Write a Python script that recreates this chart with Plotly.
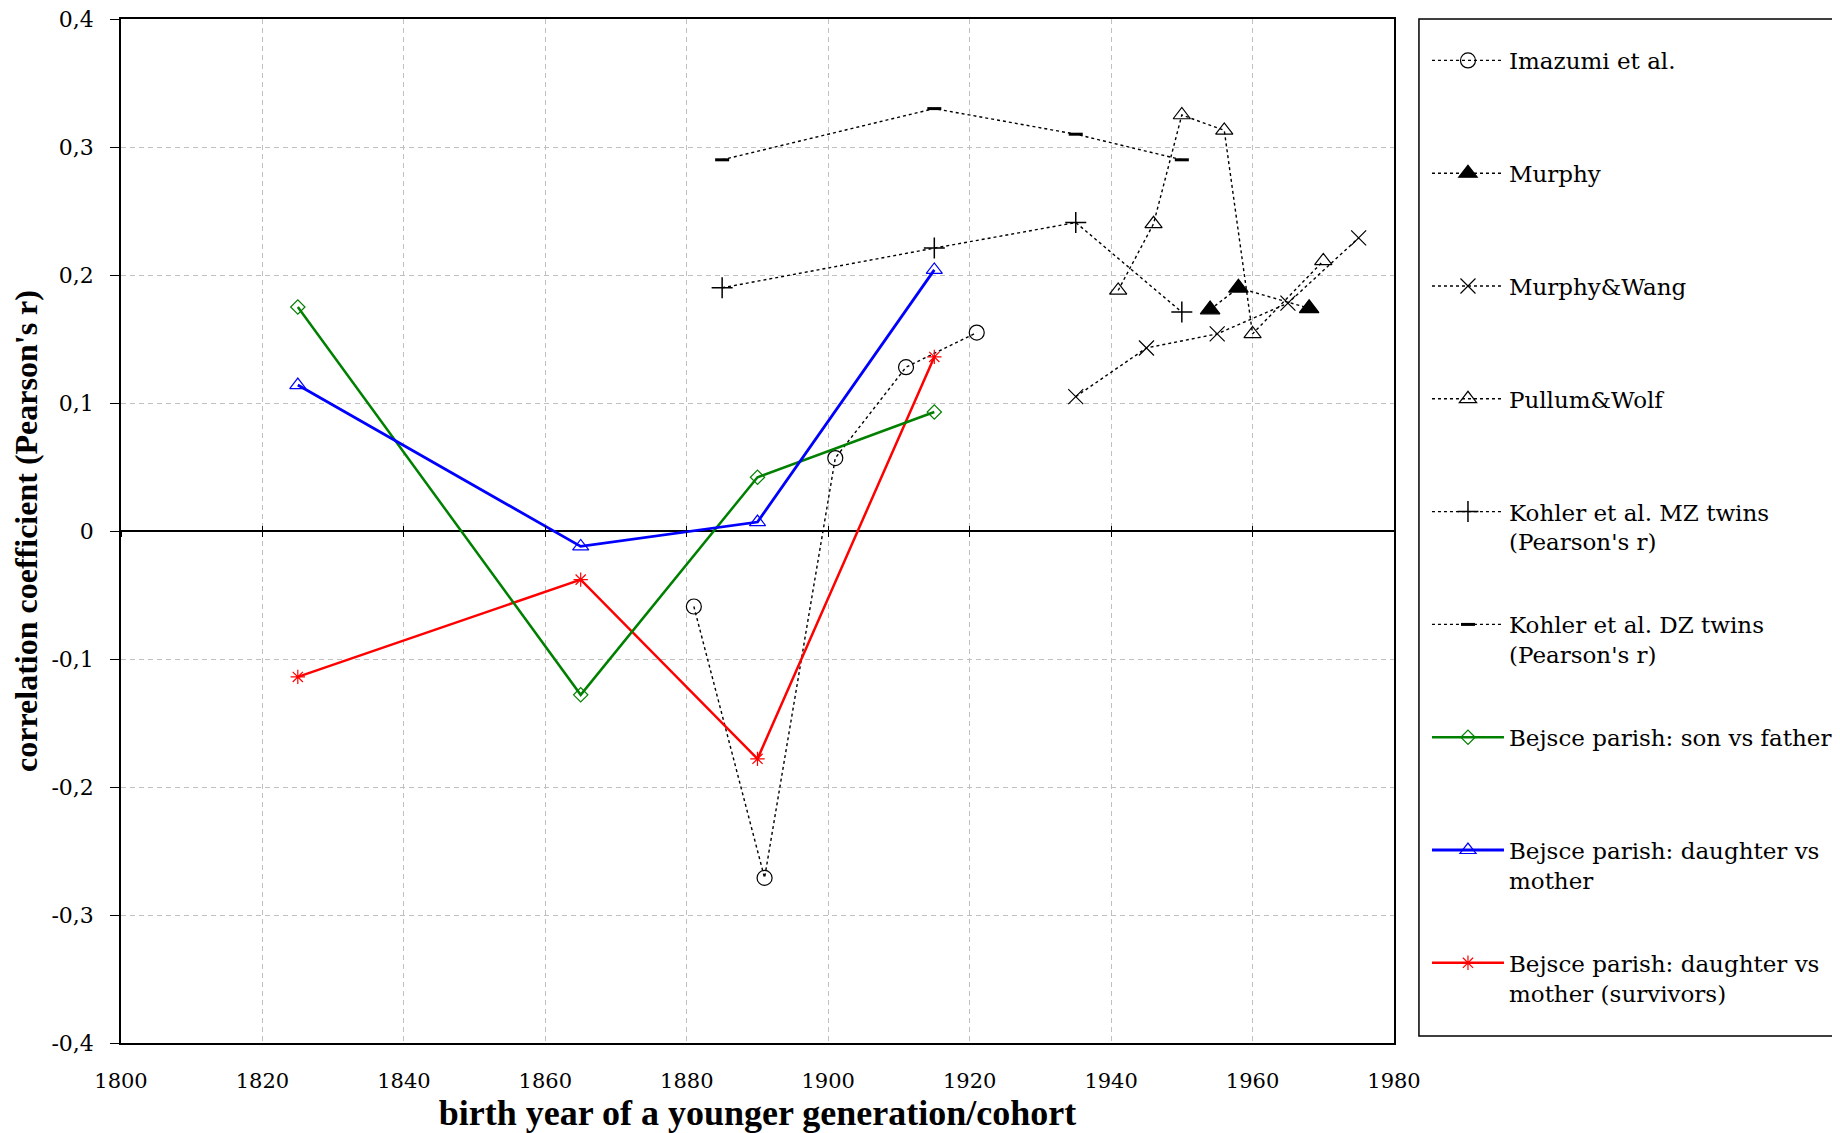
import plotly.graph_objects as go

# --- data ---
imazumi_years = [1881, 1891, 1901, 1911, 1921]
imazumi_r = [-0.059, -0.271, 0.057, 0.128, 0.155]

murphy_years = [1954, 1958, 1968]
murphy_r = [0.173, 0.190, 0.174]

murphy_wang_years = [1935, 1945, 1955, 1965, 1975]
murphy_wang_r = [0.105, 0.143, 0.154, 0.178, 0.229]

pullum_years = [1941, 1946, 1950, 1956, 1960, 1970]
pullum_r = [0.188, 0.240, 0.325, 0.313, 0.154, 0.211]

kohler_mz_years = [1885, 1915, 1935, 1950]
kohler_mz_r = [0.190, 0.221, 0.241, 0.171]

kohler_dz_years = [1885, 1915, 1935, 1950]
kohler_dz_r = [0.290, 0.330, 0.310, 0.290]

bejsce_years = [1825, 1865, 1890, 1915]
son_father_r = [0.175, -0.128, 0.042, 0.093]
daughter_mother_r = [0.114, -0.012, 0.007, 0.204]
daughter_mother_surv_r = [-0.114, -0.038, -0.178, 0.136]

x_ticks = [1800, 1820, 1840, 1860, 1880, 1900, 1920, 1940, 1960, 1980]
y_ticks = [-0.4, -0.3, -0.2, -0.1, 0, 0.1, 0.2, 0.3, 0.4]
y_tick_labels = ["-0,4", "-0,3", "-0,2", "-0,1", "0", "0,1", "0,2", "0,3", "0,4"]

FONT = "DejaVu Serif"
TITLE_FONT = "Liberation Serif"
BLANK = "<br>\u00a0"

fig = go.Figure()

def add_series(x, y, name, color, width, dash, symbol, size, mline=1.2, fill=None, xaxis="x"):
    fig.add_trace(go.Scatter(
        x=x, y=y, name=name, mode="lines+markers", legendgroup=name, xaxis=xaxis,
        line=dict(color=color, width=width, dash=dash),
        marker=dict(symbol=symbol, size=size, color=fill or color,
                    line=dict(color=color, width=mline)),
    ))

add_series(imazumi_years, imazumi_r, "Imazumi et al." + BLANK, "black", 1.4, "3px,3px", "circle-open", 15)
add_series(murphy_years, murphy_r, "Murphy" + BLANK, "black", 1.4, "3px,3px", "triangle-up", 17)
add_series(murphy_wang_years, murphy_wang_r, "Murphy&amp;Wang" + BLANK, "black", 1.4, "3px,3px", "x-thin-open", 15)
add_series(pullum_years, pullum_r, "Pullum&amp;Wolf" + BLANK, "black", 1.4, "3px,3px", "triangle-up-open", 15)
add_series(kohler_mz_years, kohler_mz_r, "Kohler et al. MZ twins<br>(Pearson's r)", "black", 1.4, "3px,3px", "cross-thin-open", 15, mline=1.5)
add_series(kohler_dz_years, kohler_dz_r, "Kohler et al. DZ twins<br>(Pearson's r)", "black", 1.4, "3px,3px", "line-ew-open", 10, mline=3)
add_series(bejsce_years, son_father_r, "Bejsce parish: son vs father" + BLANK, "#008000", 2.5, "solid", "diamond-open", 11, xaxis="x2")
add_series(bejsce_years, daughter_mother_r, "Bejsce parish: daughter vs<br>mother", "#0000ff", 2.8, "solid", "triangle-up-open", 14, xaxis="x3")
add_series(bejsce_years, daughter_mother_surv_r, "Bejsce parish: daughter vs<br>mother (survivors)", "#ff0000", 2.5, "solid", "asterisk-open", 12)

axis_font = dict(family=FONT, size=21, color="black")

fig.update_layout(
    width=1824, height=1125,
    margin=dict(l=113, r=438, t=11, b=90, autoexpand=False),
    paper_bgcolor="white", plot_bgcolor="white",
    separators=",.",
    font=dict(family=FONT, color="black"),
    showlegend=True,
    legend=dict(
        x=1.0259, xanchor="left", y=0.9805, yanchor="top",
        bgcolor="rgba(0,0,0,0)", borderwidth=0,
        font=dict(family=FONT, size=23, color="black"),
        tracegroupgap=50, itemwidth=72, valign="top",
        traceorder="grouped",
    ),
    xaxis=dict(
        range=[1800, 1980], tickvals=x_ticks, tickfont=axis_font,
        showgrid=True, gridcolor="#c0c0c0", griddash="5px,4px", gridwidth=1,
        showline=True, linecolor="black", linewidth=1.5, mirror=True,
        ticks="", ticklabelstandoff=18, zeroline=False, automargin=False,
        title=dict(text="<b>birth year of a younger generation/cohort</b>",
                   font=dict(family=TITLE_FONT, size=36, color="black"), standoff=8),
    ),
    yaxis=dict(
        range=[-0.4, 0.4], tickvals=y_ticks, ticktext=y_tick_labels,
        tickfont=dict(family=FONT, size=22, color="black"),
        showgrid=True, gridcolor="#c0c0c0", griddash="5px,4px", gridwidth=1,
        showline=True, linecolor="black", linewidth=1.5, mirror=True,
        ticks="outside", ticklen=9, tickcolor="black", ticklabelstandoff=12,
        ticklabeloverflow="allow",
        zeroline=True, zerolinecolor="black", zerolinewidth=1.5, automargin=False,
        title=dict(text="<b>correlation coefficient (Pearson's r)</b>",
                   font=dict(family=TITLE_FONT, size=32, color="black"), standoff=4),
    ),
    # tick marks crossing the zero line
    xaxis2=dict(
        overlaying="x", anchor="free", position=0.5, range=[1800, 1980],
        tickvals=x_ticks, showticklabels=False, showgrid=False, zeroline=False,
        showline=False, ticks="outside", ticklen=5, tickcolor="black",
    ),
    xaxis3=dict(
        overlaying="x", anchor="free", position=0.5, range=[1800, 1980],
        tickvals=x_ticks, showticklabels=False, showgrid=False, zeroline=False,
        showline=False, ticks="inside", ticklen=5, tickcolor="black",
    ),
    shapes=[dict(
        type="rect", xref="paper", yref="paper",
        x0=1.0196, x1=1.40, y0=0.0068, y1=1,
        line=dict(color="black", width=1.5), fillcolor="rgba(0,0,0,0)", layer="above",
    )],
)

fig.write_html("out.html")
